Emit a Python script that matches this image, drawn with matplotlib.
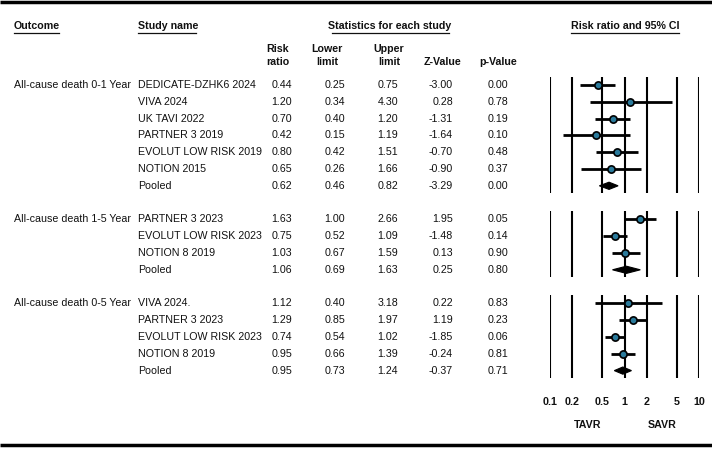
import numpy as np
import matplotlib
matplotlib.use("Agg")
import matplotlib.pyplot as plt
from matplotlib.patches import Polygon

plt.rcParams['font.family'] = ['Liberation Sans', 'DejaVu Sans']

# data
outcomes = ["All-cause death 0-1 Year", "All-cause death 1-5 Year", "All-cause death 0-5 Year"]
study_names = [
    ["DEDICATE-DZHK6 2024", "VIVA 2024", "UK TAVI 2022", "PARTNER 3 2019",
     "EVOLUT LOW RISK 2019", "NOTION 2015", "Pooled"],
    ["PARTNER 3 2023", "EVOLUT LOW RISK 2023", "NOTION 8 2019", "Pooled"],
    ["VIVA 2024.", "PARTNER 3 2023", "EVOLUT LOW RISK 2023", "NOTION 8 2019", "Pooled"],
]
risk_ratio = [
    [0.44, 1.20, 0.70, 0.42, 0.80, 0.65, 0.62],
    [1.63, 0.75, 1.03, 1.06],
    [1.12, 1.29, 0.74, 0.95, 0.95],
]
lower_limit = [
    [0.25, 0.34, 0.40, 0.15, 0.42, 0.26, 0.46],
    [1.00, 0.52, 0.67, 0.69],
    [0.40, 0.85, 0.54, 0.66, 0.73],
]
upper_limit = [
    [0.75, 4.30, 1.20, 1.19, 1.51, 1.66, 0.82],
    [2.66, 1.09, 1.59, 1.63],
    [3.18, 1.97, 1.02, 1.39, 1.24],
]
z_value = [
    [-3.00, 0.28, -1.31, -1.64, -0.70, -0.90, -3.29],
    [1.95, -1.48, 0.13, 0.25],
    [0.22, 1.19, -1.85, -0.24, -0.37],
]
p_value = [
    [0.00, 0.78, 0.19, 0.10, 0.48, 0.37, 0.00],
    [0.05, 0.14, 0.90, 0.80],
    [0.83, 0.23, 0.06, 0.81, 0.71],
]
axis_ticks = [0.1, 0.2, 0.5, 1, 2, 5, 10]
axis_tick_labels = ["0.1", "0.2", "0.5", "1", "2", "5", "10"]

W, H = 712, 449
fig = plt.figure(figsize=(W / 100, H / 100), dpi=100)
ax = fig.add_axes([0, 0, 1, 1])
ax.set_xlim(0, W)
ax.set_ylim(H, 0)
ax.axis('off')

# forest panel: 0.1 at x=550, 10 at x=699
fx = fig.add_axes([550 / W, 0, (699 - 550) / W, 1])
fx.set_xscale('log')
fx.set_xlim(0.1, 10)
fx.set_ylim(H, 0)
fx.axis('off')

txt = '#111111'
fs = 7.7

# top / bottom rules
ax.plot([0, W], [2, 2], color='black', lw=2.5, solid_capstyle='butt')
ax.plot([0, W], [445, 445], color='black', lw=2.5, solid_capstyle='butt')

# headers
def header(x, y, s, ha='left', ul=None):
    t = ax.text(x, y, s, ha=ha, va='center', fontsize=fs, fontweight='bold', color=txt)
    if ul is not None:
        ax.plot(ul, [33, 33], color=txt, lw=0.9)
    return t

header(14, 26, "Outcome", ul=[14, 59])
header(138, 26, "Study name", ul=[138, 196])
header(390, 26, "Statistics for each study", ha='center', ul=[332, 449])
header(625, 26, "Risk ratio and 95% CI", ha='center', ul=[571, 679])

col_right = [292, 345, 398, 453, 508]
col_center = [278, 327, 389, 442, 498]
col_top = ["Risk", "Lower", "Upper", "", ""]
col_bot = ["ratio", "limit", "limit", "Z-Value", "p-Value"]
for cx, t1, t2 in zip(col_center, col_top, col_bot):
    if t1:
        header(cx, 49, t1, ha='center')
    header(cx, 62, t2, ha='center')

y0 = 85
row_h = 16.8
row = 0
for g, outcome in enumerate(outcomes):
    first_y = y0 + row * row_h
    ax.text(14, first_y, outcome, ha='left', va='center', fontsize=fs, color=txt)
    for i, name in enumerate(study_names[g]):
        y = y0 + row * row_h
        ax.text(138, y, name, ha='left', va='center', fontsize=fs, color=txt)
        vals = [risk_ratio[g][i], lower_limit[g][i], upper_limit[g][i], z_value[g][i], p_value[g][i]]
        for xr, v in zip(col_right, vals):
            ax.text(xr, y, f"{v:.2f}", ha='right', va='center', fontsize=fs, color=txt)
        rr, lo, hi = risk_ratio[g][i], lower_limit[g][i], upper_limit[g][i]
        if name == "Pooled":
            dh = 3.6
            fx.add_patch(Polygon([[lo, y], [rr, y - dh], [hi, y], [rr, y + dh]],
                                 closed=True, facecolor='black', edgecolor='black',
                                 lw=0.8, zorder=4))
        else:
            fx.plot([lo, hi], [y, y], color='black', lw=2.0, zorder=3, solid_capstyle='butt')
            fx.plot([rr], [y], 'o', markersize=5.2, markerfacecolor='#2a7a9b',
                    markeredgecolor='black', markeredgewidth=1.2, zorder=5)
        row += 1
    last_y = y0 + (row - 1) * row_h
    for t in axis_ticks:
        fx.plot([t, t], [first_y - 8.5, last_y + 7.5], color='black', lw=1.5, zorder=2,
                solid_capstyle='butt')
    row += 1  # blank row between outcomes

for t, lab in zip(axis_ticks, axis_tick_labels):
    fx.text(t, 402, lab, ha='center', va='center', fontsize=fs, fontweight='bold', color=txt)

fx.text(np.sqrt(0.2 * 0.5), 425, "TAVR", ha='center', va='center', fontsize=fs,
        fontweight='bold', color=txt)
fx.text(np.sqrt(2 * 5), 425, "SAVR", ha='center', va='center', fontsize=fs,
        fontweight='bold', color=txt)

fig.savefig("out.png", dpi=100)
